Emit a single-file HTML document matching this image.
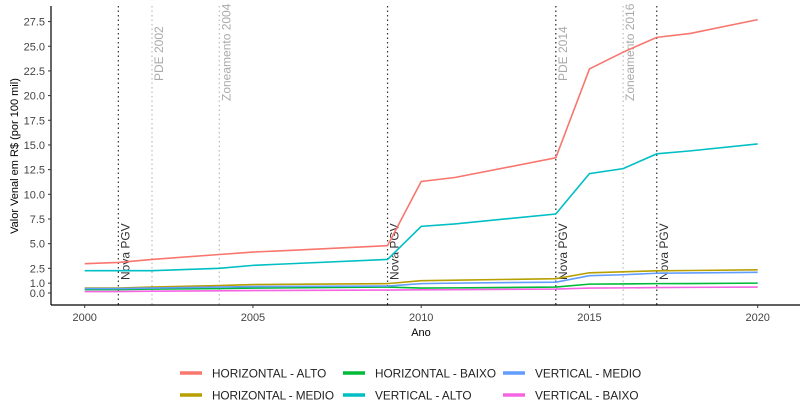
<!DOCTYPE html>
<html><head><meta charset="utf-8"><style>
body{margin:0;background:#fff;font-family:"Liberation Sans",sans-serif}
svg{display:block}
</style></head><body>
<svg id="c" width="800" height="407" xmlns="http://www.w3.org/2000/svg"></svg>
<script>
const years=[2000,2001,2002,2004,2005,2006,2009,2010,2011,2014,2015,2016,2017,2018,2020];
const hAlto=[2.97,3.1,3.4,3.9,4.15,4.3,4.8,11.3,11.7,13.7,22.7,24.4,25.9,26.3,27.7];
const hMedio=[0.5,0.5,0.6,0.75,0.85,0.88,0.95,1.25,1.3,1.45,2.05,2.15,2.25,2.28,2.35];
const hBaixo=[0.35,0.35,0.4,0.45,0.5,0.52,0.6,0.5,0.52,0.6,0.9,0.92,0.95,0.96,1.0];
const vAlto=[2.26,2.26,2.26,2.5,2.8,2.95,3.4,6.75,7.0,8.0,12.1,12.6,14.1,14.4,15.1];
const vMedio=[0.45,0.45,0.5,0.6,0.65,0.67,0.7,0.95,1.0,1.1,1.75,1.85,2.0,2.03,2.1];
const vBaixo=[0.15,0.15,0.18,0.22,0.25,0.26,0.3,0.32,0.34,0.4,0.5,0.52,0.55,0.57,0.6];
const seriesNames=["HORIZONTAL - ALTO","HORIZONTAL - MEDIO","HORIZONTAL - BAIXO","VERTICAL - ALTO","VERTICAL - MEDIO","VERTICAL - BAIXO"];
const yTicks=[0,1,2.5,5,7.5,10,12.5,15,17.5,20,22.5,25,27.5];
const xTicks=[2000,2005,2010,2015,2020];
const pgvYears=[2001,2009,2014,2017];
const eventYears=[2002,2004,2014,2016];
const eventLabels=["PDE 2002","Zoneamento 2004","PDE 2014","Zoneamento 2016"];
const colors=["#F8766D","#B79F00","#00BA38","#00BFC4","#619CFF","#F564E3"];
const data=[hAlto,hMedio,hBaixo,vAlto,vMedio,vBaixo];
const X=y=>84.7+(y-2000)*33.65;
const Y=v=>293-v*9.87;
const svg=document.getElementById('c');const NS="http://www.w3.org/2000/svg";
function mk(t,a,p){const e=document.createElementNS(NS,t);for(const k in a)e.setAttribute(k,a[k]);(p||svg).appendChild(e);return e;}
eventYears.forEach((yr,i)=>{
 const l=mk('line',{x1:X(yr),x2:X(yr),y1:6,y2:305,stroke:'#bbb','stroke-width':1.2,'stroke-dasharray':'1.5 3'});
 
 
 const t=mk('text',{transform:`translate(${X(yr)+11},${i%2?101:81}) rotate(-90)`,'font-size':12,fill:'#aaa'});
 t.textContent=eventLabels[i];
 
 
});
pgvYears.forEach(yr=>{
 const l=mk('line',{x1:X(yr),x2:X(yr),y1:6,y2:305,stroke:'#333','stroke-width':1.2,'stroke-dasharray':'1.5 3'});
 
 
 const t=mk('text',{transform:`translate(${X(yr)+11},280) rotate(-90)`,'font-size':12,fill:'#333'});
 t.textContent='Nova PGV';
 
 
});
data.forEach((s,i)=>{
 const p=mk('polyline',{points:s.map((v,j)=>X(years[j])+','+Y(v)).join(' '),fill:'none',stroke:colors[i],'stroke-width':1.6});
 
 
});
const ax=mk('line',{x1:51,x2:51,y1:6,y2:305,stroke:'#000','stroke-width':1.2});


const ax2=mk('line',{x1:51,x2:800,y1:305,y2:305,stroke:'#000','stroke-width':1.2});


yTicks.forEach(v=>{
 mk('line',{x1:48,x2:51,y1:Y(v),y2:Y(v),stroke:'#333'});
 const t=mk('text',{x:45,y:Y(v)+4,'text-anchor':'end','font-size':11,fill:'#444'});
 t.textContent=v.toFixed(1);
 
 
});
xTicks.forEach(v=>{
 mk('line',{x1:X(v),x2:X(v),y1:305,y2:308,stroke:'#333'});
 const t=mk('text',{x:X(v),y:321,'text-anchor':'middle','font-size':11,fill:'#444'});
 t.textContent=v;
 
 
});
const xt=mk('text',{x:421,y:336,'text-anchor':'middle','font-size':11,fill:'#000'});xt.textContent='Ano';


const yt=mk('text',{transform:'translate(18,156) rotate(-90)','text-anchor':'middle','font-size':11,fill:'#000'});yt.textContent='Valor Venal em R$ (por 100 mil)';


const kx=[180,180,343,343,503,503],ky=[373,395,373,395,373,395];
[0,1,2,3,4,5].forEach(i=>{
 const g=mk('g',{});
 
 
 mk('line',{x1:kx[i],x2:kx[i]+22,y1:ky[i],y2:ky[i],stroke:colors[i],'stroke-width':3.5},g);
 const t=mk('text',{x:kx[i]+32,y:ky[i]+4.5,'font-size':11.8,fill:'#222',textLength:i==1?122:(i==2?121:undefined)},g);
 if(i!=1&&i!=2)t.removeAttribute('textLength');
 t.textContent=seriesNames[i];
});
</script>
</body></html>
